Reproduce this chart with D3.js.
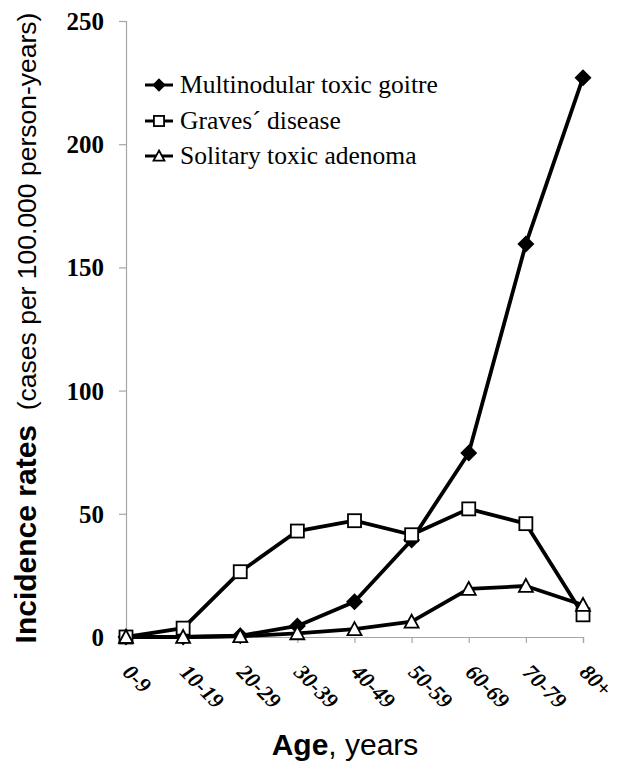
<!DOCTYPE html>
<html>
<head>
<meta charset="utf-8">
<script src="https://cdn.jsdelivr.net/npm/d3@7"></script>
<style>
  html, body { margin: 0; padding: 0; background: #fff; }
  svg { display: block; }
</style>
</head>
<body>
<svg id="chart" width="619" height="766"></svg>
<script>
const categories = ["0-9", "10-19", "20-29", "30-39", "40-49", "50-59", "60-69", "70-79", "80+"];
const multinodular = [0, 0, 0.5, 4.5, 14.3, 39.4, 74.7, 159.5, 227];
const graves = [0, 3.6, 26.5, 43, 47.2, 41.5, 52, 46, 9];
const solitary = [0, 0, 0.3, 1.5, 3.2, 6.2, 19.5, 20.7, 13];
const yTicks = [0, 50, 100, 150, 200, 250];
const seriesNames = ["Multinodular toxic goitre", "Graves\u00B4 disease", "Solitary toxic adenoma"];

(function () {
const svg = d3.select("#chart");
const pLeft = 126, pRight = 583, pTop = 21, pBottom = 637;
const serif = "'Liberation Serif', 'Times New Roman', serif";
const sans = "'Liberation Sans', Arial, sans-serif";

const x = d3.scalePoint().domain(categories).range([pLeft, pRight]);
const y = d3.scaleLinear().domain([0, 250]).range([pBottom, pTop]);

// Y axis
const yAxis = svg.append("g").attr("transform", `translate(${pLeft},0)`)
  .call(d3.axisLeft(y).tickValues(yTicks).tickSize(7).tickPadding(15));
yAxis.select(".domain").attr("stroke", "#a6a6a6").attr("stroke-width", 1.2);
yAxis.selectAll(".tick line").attr("stroke", "#a6a6a6").attr("stroke-width", 1.2);
yAxis.selectAll(".tick text")
  .attr("font-family", serif)
  .attr("font-weight", "bold").attr("font-size", 25).attr("fill", "#000")
  .attr("dy", "0.34em");

// X axis
const xAxis = svg.append("g").attr("transform", `translate(0,${pBottom})`)
  .call(d3.axisBottom(x).tickSize(6).tickFormat(""));
xAxis.select(".domain").attr("stroke", "#a6a6a6").attr("stroke-width", 1.2);
xAxis.selectAll(".tick line").attr("stroke", "#a6a6a6").attr("stroke-width", 1.2);

svg.append("g").selectAll("text").data(categories).join("text")
  .attr("transform", d => `translate(${x(d) + 1},${pBottom + 31}) rotate(45)`)
  .attr("font-family", serif)
  .attr("font-weight", "bold").attr("font-style", "italic")
  .attr("font-size", 22).attr("fill", "#000")
  .attr("dy", "0.35em")
  .text(d => d);

// Lines
const line = d3.line().x((d, i) => x(categories[i])).y(d => y(d));
const allSeries = [
  { values: multinodular, type: "diamond" },
  { values: graves, type: "square" },
  { values: solitary, type: "triangle" }
];

allSeries.forEach(s => {
  svg.append("path").datum(s.values)
    .attr("d", line).attr("fill", "none")
    .attr("stroke", "#000").attr("stroke-width", 3.8)
    .attr("stroke-linejoin", "round");
});

function drawMarker(g, type, cx, cy, scale) {
  scale = scale || 1;
  if (type === "diamond") {
    const r = 8.5 * scale;
    g.append("path")
      .attr("d", `M${cx},${cy - r}L${cx + r},${cy}L${cx},${cy + r}L${cx - r},${cy}Z`)
      .attr("fill", "#000");
  } else if (type === "square") {
    const h = 6.5 * scale;
    g.append("rect").attr("x", cx - h).attr("y", cy - h)
      .attr("width", 2 * h).attr("height", 2 * h)
      .attr("fill", "#fff").attr("stroke", "#000").attr("stroke-width", 1.8);
  } else {
    const h = 7 * scale;
    g.append("path")
      .attr("d", `M${cx},${cy - h}L${cx + h},${cy + h * 0.85}L${cx - h},${cy + h * 0.85}Z`)
      .attr("fill", "#fff").attr("stroke", "#000").attr("stroke-width", 1.8)
      .attr("stroke-linejoin", "miter");
  }
}

allSeries.forEach(s => {
  const g = svg.append("g");
  s.values.forEach((v, i) => drawMarker(g, s.type, x(categories[i]), y(v)));
});

// Legend
const legendY = [85, 121, 156];
allSeries.forEach((s, i) => {
  const g = svg.append("g");
  g.append("line").attr("x1", 145).attr("x2", 173)
    .attr("y1", legendY[i]).attr("y2", legendY[i])
    .attr("stroke", "#000").attr("stroke-width", 3);
  drawMarker(g, s.type, 159, legendY[i], 0.78);
  g.append("text").attr("x", 180).attr("y", legendY[i])
    .attr("dy", "0.33em")
    .attr("font-family", serif)
    .attr("font-size", 25.5).attr("fill", "#000")
    .text(seriesNames[i]);
});

// Y title
const yt = svg.append("text")
  .attr("transform", "translate(36,328) rotate(-90)")
  .attr("text-anchor", "middle")
  .attr("font-family", sans)
  .attr("fill", "#000");
yt.append("tspan").attr("font-weight", "bold").attr("font-size", 30).text("Incidence rates");
yt.append("tspan").attr("font-size", 26.5).text("\u00A0\u00A0(cases per 100.000 person-years)");

// X title
const xt = svg.append("text")
  .attr("x", 345).attr("y", 755)
  .attr("text-anchor", "middle")
  .attr("font-family", sans)
  .attr("font-size", 30).attr("fill", "#000");
xt.append("tspan").attr("font-weight", "bold").text("Age");
xt.append("tspan").text(", years");
})();
</script>
</body>
</html>
